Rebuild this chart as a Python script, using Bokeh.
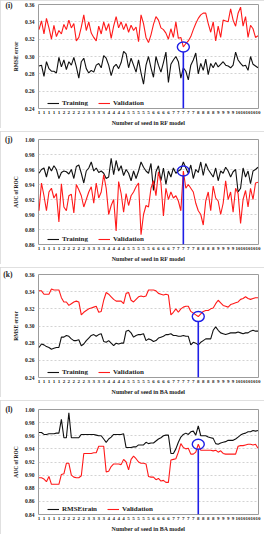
from bokeh.plotting import figure
from bokeh.models import Range1d, FixedTicker, Legend, LegendItem, LinearAxis, NumeralTickFormatter
from bokeh.layouts import column
from bokeh.embed import file_html
from bokeh.resources import INLINE

# ---------------- data ----------------
seed_labels = ["1", "1", "1", "1", "1", "2", "2", "2", "2", "2",
               "3", "3", "3", "3", "4", "4", "4", "4", "5", "5",
               "5", "5", "5", "6", "6", "6", "6", "7", "7", "7",
               "7", "7", "8", "8", "8", "8", "9", "9", "9", "9",
               "10", "10", "10", "10", "10"]

rf_rmse_train = [0.289, 0.290, 0.277, 0.294, 0.286, 0.283, 0.283, 0.281, 0.299, 0.288,
                 0.296, 0.285, 0.294, 0.290, 0.299, 0.288, 0.275, 0.294, 0.298, 0.286,
                 0.281, 0.284, 0.282, 0.290, 0.292, 0.287, 0.301, 0.298, 0.290, 0.278,
                 0.288, 0.291, 0.286, 0.293, 0.306, 0.303, 0.287, 0.298, 0.290, 0.282,
                 0.296, 0.281, 0.268, 0.290, 0.300, 0.287, 0.276, 0.300, 0.290, 0.282,
                 0.293, 0.305, 0.270, 0.291, 0.296, 0.300, 0.294, 0.275, 0.287, 0.283,
                 0.273, 0.290, 0.296, 0.304, 0.280, 0.292, 0.284, 0.297, 0.279, 0.292,
                 0.287, 0.293, 0.288, 0.291, 0.294, 0.290, 0.289, 0.287, 0.290, 0.305,
                 0.296, 0.292, 0.289, 0.290, 0.284, 0.300, 0.291, 0.289, 0.287]
rf_rmse_valid = [0.331, 0.341, 0.326, 0.344, 0.333, 0.320, 0.336, 0.323, 0.330, 0.326,
                 0.337, 0.331, 0.342, 0.333, 0.338, 0.318, 0.322, 0.334, 0.348, 0.330,
                 0.340, 0.327, 0.322, 0.318, 0.335, 0.326, 0.340, 0.330, 0.338, 0.321,
                 0.335, 0.346, 0.333, 0.340, 0.331, 0.338, 0.328, 0.336, 0.330, 0.334,
                 0.317, 0.348, 0.338, 0.322, 0.316, 0.325, 0.337, 0.346, 0.342, 0.333,
                 0.331, 0.327, 0.320, 0.332, 0.322, 0.340, 0.321, 0.322, 0.311, 0.315,
                 0.318, 0.323, 0.331, 0.338, 0.344, 0.348, 0.350, 0.350, 0.338, 0.328,
                 0.340, 0.318, 0.335, 0.322, 0.342, 0.341, 0.340, 0.355, 0.342, 0.335,
                 0.350, 0.357, 0.335, 0.346, 0.322, 0.336, 0.332, 0.322, 0.324]
rf_auc_train = [0.955, 0.960, 0.962, 0.950, 0.964, 0.958, 0.965, 0.960, 0.948, 0.956,
                0.958, 0.957, 0.954, 0.960, 0.948, 0.964, 0.966, 0.955, 0.942, 0.958,
                0.962, 0.970, 0.958, 0.962, 0.956, 0.958, 0.955, 0.948, 0.950, 0.975,
                0.953, 0.972, 0.958, 0.965, 0.952, 0.960, 0.955, 0.945, 0.958, 0.948,
                0.958, 0.970, 0.963, 0.958, 0.955, 0.968, 0.932, 0.957, 0.965, 0.945,
                0.962, 0.940, 0.958, 0.950, 0.962, 0.955, 0.958, 0.960, 0.970, 0.962,
                0.955, 0.966, 0.948, 0.960, 0.956, 0.970, 0.952, 0.968, 0.960, 0.955,
                0.950, 0.962, 0.945, 0.958, 0.955, 0.963, 0.958, 0.950, 0.957, 0.960,
                0.930, 0.935, 0.962, 0.950, 0.958, 0.941, 0.958, 0.960, 0.963]
rf_auc_valid = [0.905, 0.942, 0.925, 0.905, 0.930, 0.935, 0.922, 0.928, 0.890, 0.941,
                0.910, 0.905, 0.925, 0.927, 0.902, 0.940, 0.933, 0.925, 0.910, 0.920,
                0.930, 0.937, 0.915, 0.942, 0.922, 0.930, 0.953, 0.935, 0.900, 0.912,
                0.920, 0.878, 0.944, 0.928, 0.903, 0.928, 0.912, 0.925, 0.930, 0.937,
                0.942, 0.873, 0.900, 0.912, 0.910, 0.935, 0.945, 0.925, 0.957, 0.942,
                0.898, 0.935, 0.920, 0.930, 0.922, 0.925, 0.918, 0.905, 0.958, 0.935,
                0.940, 0.935, 0.930, 0.915, 0.905, 0.900, 0.886, 0.918, 0.930, 0.905,
                0.938, 0.922, 0.918, 0.900, 0.915, 0.945, 0.920, 0.930, 0.903, 0.935,
                0.928, 0.888, 0.920, 0.932, 0.910, 0.935, 0.920, 0.942, 0.943]
ba_rmse_train = [0.275, 0.279, 0.278, 0.276, 0.275, 0.273, 0.274, 0.275, 0.275, 0.287,
                 0.287, 0.289, 0.288, 0.285, 0.283, 0.283, 0.284, 0.277, 0.279, 0.283,
                 0.286, 0.289, 0.290, 0.288, 0.290, 0.291, 0.282, 0.281, 0.283, 0.280,
                 0.277, 0.280, 0.279, 0.280, 0.280, 0.294, 0.295, 0.292, 0.287, 0.289,
                 0.290, 0.290, 0.291, 0.283, 0.285, 0.284, 0.282, 0.283, 0.286, 0.287,
                 0.288, 0.290, 0.290, 0.291, 0.289, 0.289, 0.288, 0.288, 0.289, 0.288,
                 0.288, 0.278, 0.281, 0.280, 0.278, 0.281, 0.283, 0.285, 0.285, 0.285,
                 0.295, 0.299, 0.295, 0.292, 0.291, 0.290, 0.291, 0.292, 0.292, 0.292,
                 0.293, 0.292, 0.291, 0.292, 0.292, 0.294, 0.295, 0.294, 0.294]
ba_rmse_valid = [0.341, 0.341, 0.337, 0.337, 0.337, 0.343, 0.342, 0.342, 0.342, 0.333,
                 0.328, 0.328, 0.324, 0.326, 0.328, 0.329, 0.328, 0.313, 0.316, 0.318,
                 0.320, 0.321, 0.322, 0.323, 0.316, 0.317, 0.330, 0.339, 0.337, 0.334,
                 0.331, 0.329, 0.329, 0.329, 0.326, 0.338, 0.339, 0.330, 0.328, 0.331,
                 0.334, 0.335, 0.334, 0.335, 0.342, 0.342, 0.342, 0.341, 0.338, 0.337,
                 0.336, 0.337, 0.336, 0.313, 0.316, 0.320, 0.316, 0.320, 0.322, 0.323,
                 0.323, 0.317, 0.315, 0.313, 0.311, 0.314, 0.317, 0.318, 0.318, 0.320,
                 0.321, 0.326, 0.330, 0.327, 0.324, 0.323, 0.322, 0.325, 0.326, 0.327,
                 0.328, 0.331, 0.332, 0.334, 0.332, 0.331, 0.332, 0.333, 0.333]
ba_auc_train = [0.965, 0.965, 0.962, 0.962, 0.963, 0.963, 0.963, 0.964, 0.964, 0.985,
                0.957, 0.957, 0.995, 0.957, 0.957, 0.957, 0.957, 0.962, 0.962, 0.962,
                0.962, 0.962, 0.962, 0.961, 0.960, 0.960, 0.955, 0.950, 0.955, 0.958,
                0.962, 0.962, 0.962, 0.962, 0.963, 0.942, 0.942, 0.942, 0.943, 0.943,
                0.946, 0.946, 0.946, 0.950, 0.948, 0.949, 0.949, 0.952, 0.955, 0.957,
                0.960, 0.961, 0.961, 0.933, 0.933, 0.940, 0.950, 0.958, 0.962, 0.964,
                0.962, 0.966, 0.967, 0.961, 0.975, 0.960, 0.960, 0.960, 0.958, 0.957,
                0.956, 0.948, 0.947, 0.949, 0.950, 0.951, 0.953, 0.953, 0.953, 0.955,
                0.958, 0.961, 0.963, 0.964, 0.966, 0.966, 0.968, 0.967, 0.968]
ba_auc_valid = [0.896, 0.896, 0.894, 0.890, 0.898, 0.886, 0.886, 0.886, 0.886, 0.901,
                0.902, 0.918, 0.918, 0.900, 0.897, 0.896, 0.896, 0.899, 0.933, 0.933,
                0.933, 0.933, 0.934, 0.934, 0.944, 0.944, 0.944, 0.905, 0.906, 0.913,
                0.917, 0.917, 0.917, 0.916, 0.924, 0.920, 0.908, 0.924, 0.929, 0.925,
                0.920, 0.918, 0.918, 0.917, 0.898, 0.897, 0.897, 0.893, 0.895, 0.891,
                0.892, 0.889, 0.889, 0.923, 0.924, 0.925, 0.935, 0.948, 0.942, 0.940,
                0.941, 0.932, 0.932, 0.935, 0.947, 0.938, 0.938, 0.938, 0.938, 0.938,
                0.937, 0.938, 0.935, 0.937, 0.933, 0.932, 0.932, 0.932, 0.932, 0.932,
                0.944, 0.945, 0.945, 0.946, 0.947, 0.947, 0.946, 0.947, 0.941]

best_rf = 58   # index of optimal seed in RF model
best_ba = 64   # index of optimal seed in BA model

rmse_ticks = [0.24, 0.26, 0.28, 0.30, 0.32, 0.34, 0.36]
auc_ticks_rf = [0.86, 0.88, 0.90, 0.92, 0.94, 0.96, 0.98, 1.00]
auc_ticks_ba = [0.84, 0.86, 0.88, 0.90, 0.92, 0.94, 0.96, 0.98, 1.00]

FONT = "Liberation Serif"
BLUE = "#1f1fe6"
FRAME_H = 105.0


def style_axis(ax):
    ax.axis_line_color = None
    ax.major_tick_line_color = None
    ax.minor_tick_line_color = None
    ax.major_tick_out = 0
    ax.major_tick_in = 0
    ax.minor_tick_out = 0
    ax.minor_tick_in = 0
    ax.major_label_text_font = FONT
    ax.major_label_text_font_style = "bold"
    ax.major_label_text_color = "#222222"
    ax.axis_label_text_font = FONT
    ax.axis_label_text_font_style = "bold"
    ax.axis_label_text_color = "#222222"


def make_panel(tag, ylabel, xlabel, yticks, train, valid, train_name, best,
               height, top, bottom):
    n = len(train)
    xs = list(range(n))
    y_lo, y_hi = yticks[0], yticks[-1]
    x_lo, x_hi = -0.2, n - 1 + 0.2
    p = figure(width=264, height=height, output_backend="svg", toolbar_location=None,
               x_range=Range1d(x_lo, x_hi), y_range=Range1d(y_lo, y_hi),
               min_border_left=27, min_border_right=6,
               min_border_top=top, min_border_bottom=bottom)
    p.styles = {"outline": "1px solid #d6d6d6", "outline-offset": "-1px"}
    p.outline_line_color = "#9c9c9c"
    p.outline_line_width = 1
    p.background_fill_color = "white"
    p.border_fill_color = "white"

    xtick_pos = xs[::2]
    p.xaxis.ticker = FixedTicker(ticks=xtick_pos)
    p.xaxis.major_label_overrides = {t: seed_labels[k] for k, t in enumerate(xtick_pos)}
    p.yaxis.ticker = FixedTicker(ticks=yticks)
    p.yaxis.formatter = NumeralTickFormatter(format="0.00")

    for ax in (p.xaxis, p.yaxis):
        style_axis(ax)
    p.xaxis.major_label_text_font_size = "5px"
    p.yaxis.major_label_text_font_size = "5.5px"
    p.xaxis.major_label_standoff = 2
    p.yaxis.major_label_standoff = 4
    p.xaxis.axis_label = xlabel
    p.yaxis.axis_label = ylabel
    p.xaxis.axis_label_text_font_size = "6px"
    p.yaxis.axis_label_text_font_size = "5.5px"
    p.xaxis.axis_label_standoff = 3
    p.yaxis.axis_label_standoff = 3

    # panel tag "(i)" etc., shown as the single label of an extra left axis at the top tick
    tag_axis = LinearAxis(ticker=FixedTicker(ticks=[y_hi]),
                          major_label_overrides={y_hi: tag})
    style_axis(tag_axis)
    tag_axis.major_label_text_font_size = "7.5px"
    try:
        tag_axis.major_label_standoff = -3
    except Exception:
        tag_axis.major_label_standoff = 0
    p.add_layout(tag_axis, "left")

    p.xgrid.visible = False
    p.ygrid.ticker = FixedTicker(ticks=yticks)
    p.ygrid.grid_line_color = "#c8c8c8"
    p.ygrid.grid_line_dash = "2 2"
    p.ygrid.grid_line_width = 0.8

    r_train = p.line(xs, train, line_color="#111111", line_width=1.1)
    r_valid = p.line(xs, valid, line_color="#ff1a1a", line_width=1.1)

    yv = valid[best]
    off = 5.0 * (y_hi - y_lo) / FRAME_H
    p.segment(x0=[best], y0=[yv - off], x1=[best], y1=[y_lo], line_color=BLUE, line_width=1.6)
    p.ellipse(x=[best], y=[yv], width=12, height=10, width_units="screen",
              height_units="screen", fill_color=None, line_color=BLUE, line_width=1.4)

    legend = Legend(items=[LegendItem(label=train_name, renderers=[r_train]),
                           LegendItem(label="Validation", renderers=[r_valid])],
                    location=(9, 1), orientation="horizontal")
    legend.background_fill_alpha = 0
    legend.border_line_color = None
    legend.label_text_font = FONT
    legend.label_text_font_style = "bold"
    legend.label_text_font_size = "7px"
    legend.label_text_color = "#222222"
    legend.glyph_width = 12
    legend.glyph_height = 8
    legend.label_height = 8
    legend.label_standoff = 3
    legend.spacing = 10
    legend.padding = 2
    legend.margin = 0
    p.add_layout(legend)
    return p


p1 = make_panel("(i)", "RMSE error", "Number of seed in RF model", rmse_ticks,
                rf_rmse_train, rf_rmse_valid, "Training", best_rf, 128, 4, 19)
p2 = make_panel("(j)", "AUC of ROC", "Number of seed in RF model", auc_ticks_rf,
                rf_auc_train, rf_auc_valid, "Training", best_rf, 133, 8, 20)
p3 = make_panel("(k)", "RMSE error", "Number of seed in BA model", rmse_ticks,
                ba_rmse_train, ba_rmse_valid, "Training", best_ba, 130, 7, 18)
p4 = make_panel("(l)", "AUC of ROC", "Number of seed in BA model", auc_ticks_ba,
                ba_auc_train, ba_auc_valid, "RMSEtrain", best_ba, 134, 9, 20)

layout = column(p1, p2, p3, p4, spacing=3)

with open("out.html", "w") as f:
    f.write(file_html(layout, INLINE))
